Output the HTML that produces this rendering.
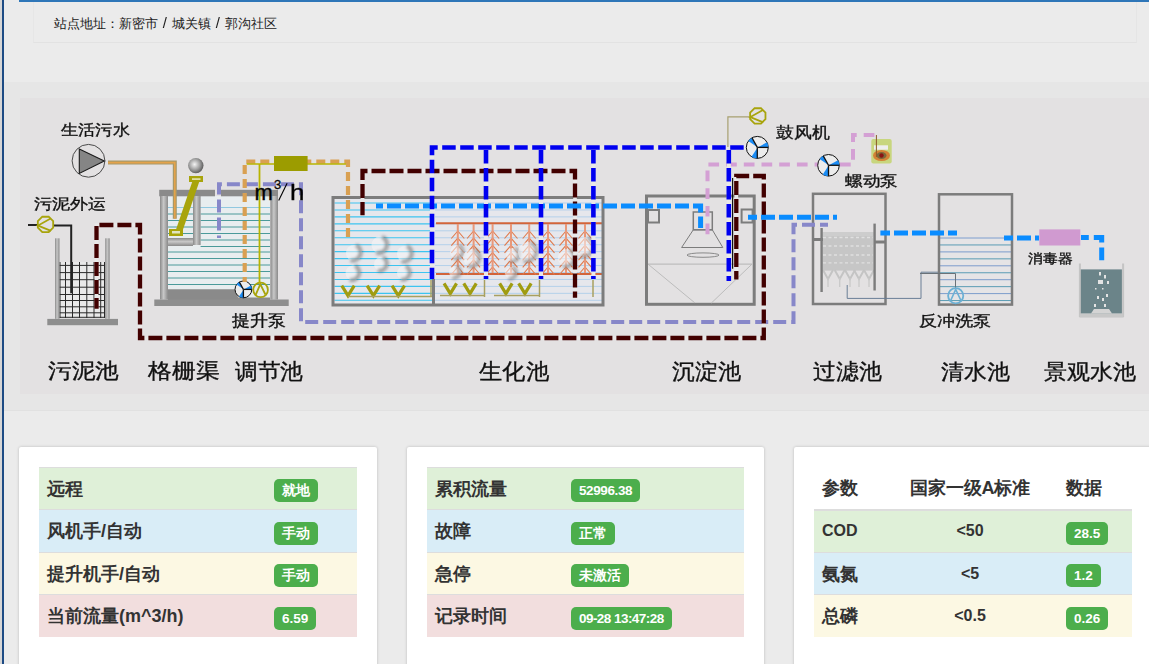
<!DOCTYPE html>
<html><head><meta charset="utf-8">
<style>
*{margin:0;padding:0;box-sizing:border-box}
html,body{width:1149px;height:664px;overflow:hidden;background:#ebebeb;font-family:"Liberation Sans",sans-serif;color:#333}
.abs{position:absolute}
#lstrip{left:0;top:0;width:2px;height:664px;background:#d6d6d6}
#lline{left:2px;top:0;width:2px;height:664px;background:#1d4b84}
#topbar{left:19px;top:0;width:1130px;height:2px;background:#2e76b8}
#hdr{left:33px;top:2px;width:1104px;height:41px;border-bottom:1px solid #e2e2e2;border-right:1px solid #e5e5e5;border-left:1px solid #e6e6e6;background:#ebebeb}
.sl{font-style:normal;display:inline-block;margin:0 5.2px;transform:scale(1.15,1.1)}
#hdr span{position:absolute;left:20px;top:14px;font-size:13px;line-height:15px;color:#1a1a1a;white-space:nowrap}
#band{left:4px;top:82px;width:1145px;height:329px;background:#e6e6e6;border-bottom:1px solid #e1e1e1}
#diag{left:20px;top:98px;width:1129px;height:296px;background:#e3e1e2}
.card{position:absolute;top:447px;height:230px;background:#fff;border-radius:2px;box-shadow:0 0 3px rgba(0,0,0,.22)}
table{position:absolute;left:20px;top:20px;border-collapse:collapse;font-size:18px;font-weight:bold;color:#333}
td,th{height:42.45px;border-top:1px solid #ddd;padding:0 8px;vertical-align:middle;text-align:left;white-space:nowrap}
tr.s td{background:#dff0d8}
tr.i td{background:#d9edf7}
tr.w td{background:#fcf8e3}
tr.d td{background:#f2dede}
.lb{position:relative;top:2px;display:inline-block;background:#4cae4c;color:#fff;font-size:13.5px;font-weight:bold;height:23px;line-height:23px;padding:0 8px;border-radius:5px;vertical-align:middle}
.lab{position:absolute;line-height:1;color:#111;white-space:nowrap;font-weight:500;transform-origin:0 0;-webkit-text-stroke:.35px #111}
.lab sup{font-size:60%;vertical-align:top;position:relative;top:-3px}
</style></head><body>
<div class="abs" id="lstrip"></div>
<div class="abs" id="lline"></div>
<div class="abs" id="topbar"></div>
<div class="abs" id="hdr"><span>站点地址：新密市<i class="sl">/</i>城关镇<i class="sl">/</i>郭沟社区</span></div>
<div class="abs" id="band"></div>
<div class="abs" id="diag"></div>
<svg class="abs" style="left:0;top:0" width="1149" height="400" viewBox="0 0 1149 400"><defs>
<linearGradient id="wall" x1="0" x2="1" y1="0" y2="0"><stop offset="0" stop-color="#8a8a8a"/><stop offset=".45" stop-color="#c8c8c8"/><stop offset="1" stop-color="#8a8a8a"/></linearGradient>
<linearGradient id="wallh" x1="0" x2="0" y1="0" y2="1"><stop offset="0" stop-color="#8a8a8a"/><stop offset=".45" stop-color="#c8c8c8"/><stop offset="1" stop-color="#8a8a8a"/></linearGradient>
<radialGradient id="sph" cx=".42" cy=".42" r=".6"><stop offset="0" stop-color="#f4f4f4"/><stop offset=".55" stop-color="#a4a4a4"/><stop offset="1" stop-color="#5a5a5a"/></radialGradient>
<filter id="blr" x="-50%" y="-50%" width="200%" height="200%"><feGaussianBlur stdDeviation="1.3"/></filter>
<filter id="blr3" x="-50%" y="-50%" width="200%" height="200%"><feGaussianBlur stdDeviation="1.4"/></filter>
<filter id="blr2" x="-50%" y="-50%" width="200%" height="200%"><feGaussianBlur stdDeviation="0.6"/></filter>
</defs><rect x="59.5" y="262" width="45.5" height="56" fill="#e9e9e9" /><path d="M60.00,262.00 L60.00,318.00" fill="none" stroke="#2a2a2a" stroke-width="1" /><path d="M65.50,262.00 L65.50,318.00" fill="none" stroke="#2a2a2a" stroke-width="1" /><path d="M72.50,262.00 L72.50,318.00" fill="none" stroke="#2a2a2a" stroke-width="1" /><path d="M79.50,262.00 L79.50,318.00" fill="none" stroke="#2a2a2a" stroke-width="1" /><path d="M86.80,262.00 L86.80,318.00" fill="none" stroke="#2a2a2a" stroke-width="1" /><path d="M94.00,262.00 L94.00,318.00" fill="none" stroke="#2a2a2a" stroke-width="1" /><path d="M100.70,262.00 L100.70,318.00" fill="none" stroke="#2a2a2a" stroke-width="1" /><path d="M104.50,262.00 L104.50,318.00" fill="none" stroke="#2a2a2a" stroke-width="1" /><path d="M59.50,265.40 L105.00,265.40" fill="none" stroke="#2a2a2a" stroke-width="1" /><path d="M59.50,272.60 L105.00,272.60" fill="none" stroke="#2a2a2a" stroke-width="1" /><path d="M59.50,279.70 L105.00,279.70" fill="none" stroke="#2a2a2a" stroke-width="1" /><path d="M59.50,287.20 L105.00,287.20" fill="none" stroke="#2a2a2a" stroke-width="1" /><path d="M59.50,294.50 L105.00,294.50" fill="none" stroke="#2a2a2a" stroke-width="1" /><path d="M59.50,300.50 L105.00,300.50" fill="none" stroke="#2a2a2a" stroke-width="1" /><path d="M59.50,306.80 L105.00,306.80" fill="none" stroke="#2a2a2a" stroke-width="1" /><path d="M59.50,312.80 L105.00,312.80" fill="none" stroke="#2a2a2a" stroke-width="1" /><path d="M59.50,317.30 L105.00,317.30" fill="none" stroke="#2a2a2a" stroke-width="1" /><rect x="55" y="238.3" width="4.5" height="80.5" fill="url(#wall)" /><rect x="105.2" y="238.3" width="4.5" height="80.5" fill="url(#wall)" /><rect x="47.3" y="318.9" width="70.7" height="6.3" fill="#8e8e8e" /><path d="M28.00,225.00 L38.00,225.00" fill="none" stroke="#222" stroke-width="2" /><path d="M54.00,225.60 L71.20,225.60 L71.20,293.30" fill="none" stroke="#222" stroke-width="2" /><polygon points="53.17,227.58 48.68,232.07 42.32,232.07 37.83,227.58 37.83,221.22 42.32,216.73 48.68,216.73 53.17,221.22" fill="none" stroke="#a8a40c" stroke-width="1.8"/><path d="M50.65,218.42 L38.03,225.56 L50.98,230.87" fill="none" stroke="#a8a40c" stroke-width="1.8" /><circle cx="88.5" cy="160.8" r="16.4" fill="none" stroke="#4a4a4a" stroke-width="1"/><polygon points="79.3,149 104.3,161 79.3,173.4" fill="#858585" stroke="#1a1a1a" stroke-width="1.1"/><rect x="168" y="196" width="102" height="104" fill="#e8edef" /><path d="M168.00,207.50 L193.00,207.50" fill="none" stroke="#4a9a9a" stroke-width="1" /><path d="M168.00,214.00 L193.00,214.00" fill="none" stroke="#4a9a9a" stroke-width="1" /><path d="M168.00,220.50 L193.00,220.50" fill="none" stroke="#4a9a9a" stroke-width="1" /><path d="M168.00,227.00 L193.00,227.00" fill="none" stroke="#4a9a9a" stroke-width="1" /><path d="M168.00,233.50 L193.00,233.50" fill="none" stroke="#4a9a9a" stroke-width="1" /><path d="M200.60,207.50 L270.00,207.50" fill="none" stroke="#4a9a9a" stroke-width="1" /><path d="M200.60,214.00 L270.00,214.00" fill="none" stroke="#4a9a9a" stroke-width="1" /><path d="M200.60,220.50 L270.00,220.50" fill="none" stroke="#4a9a9a" stroke-width="1" /><path d="M200.60,227.00 L270.00,227.00" fill="none" stroke="#4a9a9a" stroke-width="1" /><path d="M200.60,233.50 L270.00,233.50" fill="none" stroke="#4a9a9a" stroke-width="1" /><path d="M200.60,240.00 L270.00,240.00" fill="none" stroke="#4a9a9a" stroke-width="1" /><path d="M200.60,246.50 L270.00,246.50" fill="none" stroke="#4a9a9a" stroke-width="1" /><path d="M168.00,252.00 L270.00,252.00" fill="none" stroke="#4a9a9a" stroke-width="1" /><path d="M168.00,258.50 L270.00,258.50" fill="none" stroke="#4a9a9a" stroke-width="1" /><path d="M168.00,265.00 L270.00,265.00" fill="none" stroke="#4a9a9a" stroke-width="1" /><path d="M168.00,271.50 L270.00,271.50" fill="none" stroke="#4a9a9a" stroke-width="1" /><path d="M168.00,278.00 L270.00,278.00" fill="none" stroke="#4a9a9a" stroke-width="1" /><path d="M168.00,284.50 L270.00,284.50" fill="none" stroke="#4a9a9a" stroke-width="1" /><path d="M168.00,207.50 L270.00,207.50" fill="none" stroke="#90c8e0" stroke-width="1" /><path d="M168,289.3 L236,289.3 L238,297.5 L270,297.5 L270,300 L168,300 Z" fill="#8a8a8a"/><rect x="159.2" y="189.8" width="55.8" height="6.5" fill="#8a8a8a" /><rect x="221" y="189.8" width="57" height="6.5" fill="#8a8a8a" /><rect x="160" y="196" width="8" height="103.5" fill="url(#wall)" /><rect x="193" y="196" width="7.6" height="49" fill="url(#wall)" /><rect x="168" y="238" width="25" height="8" fill="url(#wallh)" /><rect x="270.4" y="196" width="7.6" height="103.5" fill="url(#wall)" /><rect x="154.3" y="299.5" width="134.4" height="6.5" fill="#8e8e8e" /><rect x="189" y="176" width="14" height="6" fill="#a8a40c"/><rect x="192" y="178.2" width="8.5" height="1.8" fill="#dedea0" /><polygon points="192.5,181 199.5,181 182.5,231 175.5,231" fill="#a8a40c"/><rect x="169" y="229" width="14" height="7" fill="#a8a40c"/><rect x="172" y="231" width="8" height="2.5" fill="#e0e4c0" /><circle cx="195.8" cy="165.6" r="7.7" fill="url(#sph)"/><path d="M108.00,162.60 L174.80,162.60 L174.80,218.70" fill="none" stroke="#a89868" stroke-width="4" /><path d="M108.00,162.60 L174.80,162.60 L174.80,218.70" fill="none" stroke="#e4a24a" stroke-width="1.6" /><circle cx="243.4" cy="289.4" r="8.4" fill="#ececec" stroke="#111" stroke-width="1"/><polygon points="244.18,289.21 251.80,289.40 251.74,288.38 251.55,287.37 251.24,286.39 250.82,285.46" fill="#1a8cf5"/><polygon points="243.18,290.17 243.40,297.80 242.23,297.72 241.08,297.47 239.98,297.07 238.95,296.52" fill="#1a8cf5"/><polygon points="242.86,288.81 239.33,282.05 238.52,282.56 237.78,283.16 237.11,283.83 236.52,284.58" fill="#1a8cf5"/><path d="M243.40,289.40 L251.80,289.40" fill="none" stroke="#111" stroke-width="1.3" /><path d="M243.40,289.40 L243.40,297.80" fill="none" stroke="#111" stroke-width="1.3" /><path d="M243.40,289.40 L239.33,282.05" fill="none" stroke="#111" stroke-width="1.3" /><circle cx="260.6" cy="289.9" r="7.3" fill="none" stroke="#a8a40c" stroke-width="1.8"/><path d="M255.60,295.10 L260.30,284.10 L265.40,294.50" fill="none" stroke="#a8a40c" stroke-width="1.8" /><rect x="333" y="198" width="271" height="107" fill="#e6e7ec" /><path d="M334.50,203.00 L432.00,203.00" fill="none" stroke="#3cc4f0" stroke-width="1.1" /><path d="M334.50,209.95 L432.00,209.95" fill="none" stroke="#3cc4f0" stroke-width="1.1" /><path d="M334.50,216.90 L432.00,216.90" fill="none" stroke="#3cc4f0" stroke-width="1.1" /><path d="M334.50,223.85 L432.00,223.85" fill="none" stroke="#3cc4f0" stroke-width="1.1" /><path d="M334.50,230.80 L432.00,230.80" fill="none" stroke="#3cc4f0" stroke-width="1.1" /><path d="M334.50,237.75 L432.00,237.75" fill="none" stroke="#3cc4f0" stroke-width="1.1" /><path d="M334.50,244.70 L432.00,244.70" fill="none" stroke="#3cc4f0" stroke-width="1.1" /><path d="M334.50,251.65 L432.00,251.65" fill="none" stroke="#3cc4f0" stroke-width="1.1" /><path d="M334.50,258.60 L432.00,258.60" fill="none" stroke="#3cc4f0" stroke-width="1.1" /><path d="M334.50,265.55 L432.00,265.55" fill="none" stroke="#3cc4f0" stroke-width="1.1" /><path d="M334.50,272.50 L432.00,272.50" fill="none" stroke="#3cc4f0" stroke-width="1.1" /><path d="M334.50,279.45 L432.00,279.45" fill="none" stroke="#3cc4f0" stroke-width="1.1" /><path d="M334.50,286.40 L432.00,286.40" fill="none" stroke="#3cc4f0" stroke-width="1.1" /><path d="M334.50,293.35 L432.00,293.35" fill="none" stroke="#3cc4f0" stroke-width="1.1" /><path d="M334.50,300.30 L432.00,300.30" fill="none" stroke="#3cc4f0" stroke-width="1.1" /><path d="M435.00,203.00 L602.00,203.00" fill="none" stroke="#b4d0ea" stroke-width="1" /><path d="M435.00,209.95 L602.00,209.95" fill="none" stroke="#b4d0ea" stroke-width="1" /><path d="M435.00,216.90 L602.00,216.90" fill="none" stroke="#b4d0ea" stroke-width="1" /><path d="M435.00,223.85 L602.00,223.85" fill="none" stroke="#b4d0ea" stroke-width="1" /><path d="M435.00,230.80 L602.00,230.80" fill="none" stroke="#b4d0ea" stroke-width="1" /><path d="M435.00,237.75 L602.00,237.75" fill="none" stroke="#b4d0ea" stroke-width="1" /><path d="M435.00,244.70 L602.00,244.70" fill="none" stroke="#b4d0ea" stroke-width="1" /><path d="M435.00,251.65 L602.00,251.65" fill="none" stroke="#b4d0ea" stroke-width="1" /><path d="M435.00,258.60 L602.00,258.60" fill="none" stroke="#b4d0ea" stroke-width="1" /><path d="M435.00,265.55 L602.00,265.55" fill="none" stroke="#b4d0ea" stroke-width="1" /><path d="M435.00,272.50 L602.00,272.50" fill="none" stroke="#b4d0ea" stroke-width="1" /><path d="M435.00,279.45 L602.00,279.45" fill="none" stroke="#b4d0ea" stroke-width="1" /><path d="M435.00,286.40 L602.00,286.40" fill="none" stroke="#b4d0ea" stroke-width="1" /><path d="M435.00,293.35 L602.00,293.35" fill="none" stroke="#b4d0ea" stroke-width="1" /><path d="M435.00,300.30 L602.00,300.30" fill="none" stroke="#b4d0ea" stroke-width="1" /><circle cx="354" cy="253" r="8" fill="#f6f6f8" opacity=".55"/><path d="M356.07,245.27 A8,8 0 0 1 350.62,260.25" fill="none" stroke="#5a5a5a" stroke-width="3.8" opacity="0.55" filter="url(#blr3)"/><circle cx="353" cy="273" r="7.5" fill="#f6f6f8" opacity=".55"/><path d="M354.94,265.76 A7.5,7.5 0 0 1 349.83,279.80" fill="none" stroke="#5a5a5a" stroke-width="3.8" opacity="0.55" filter="url(#blr3)"/><circle cx="380" cy="245" r="8.5" fill="#f6f6f8" opacity=".55"/><path d="M382.20,236.79 A8.5,8.5 0 0 1 376.41,252.70" fill="none" stroke="#5a5a5a" stroke-width="3.8" opacity="0.55" filter="url(#blr3)"/><circle cx="381" cy="264" r="7" fill="#f6f6f8" opacity=".55"/><path d="M382.81,257.24 A7,7 0 0 1 378.04,270.34" fill="none" stroke="#5a5a5a" stroke-width="3.8" opacity="0.55" filter="url(#blr3)"/><circle cx="405" cy="254" r="8" fill="#f6f6f8" opacity=".55"/><path d="M407.07,246.27 A8,8 0 0 1 401.62,261.25" fill="none" stroke="#5a5a5a" stroke-width="3.8" opacity="0.55" filter="url(#blr3)"/><circle cx="404" cy="273" r="7" fill="#f6f6f8" opacity=".55"/><path d="M405.81,266.24 A7,7 0 0 1 401.04,279.34" fill="none" stroke="#5a5a5a" stroke-width="3.8" opacity="0.55" filter="url(#blr3)"/><path d="M436.00,223.20 L602.00,223.20" fill="none" stroke="#d2643a" stroke-width="2" /><path d="M436.00,274.00 L602.00,274.00" fill="none" stroke="#d2643a" stroke-width="2" /><path d="M451.30,238.50 L457.80,231.00 L464.30,238.50" fill="none" stroke="#e07a4c" stroke-width="1.1" /><path d="M451.30,245.70 L457.80,238.20 L464.30,245.70" fill="none" stroke="#e07a4c" stroke-width="1.1" /><path d="M451.30,252.90 L457.80,245.40 L464.30,252.90" fill="none" stroke="#e07a4c" stroke-width="1.1" /><path d="M451.30,260.10 L457.80,252.60 L464.30,260.10" fill="none" stroke="#e07a4c" stroke-width="1.1" /><path d="M451.30,267.30 L457.80,259.80 L464.30,267.30" fill="none" stroke="#e07a4c" stroke-width="1.1" /><path d="M451.30,274.50 L457.80,267.00 L464.30,274.50" fill="none" stroke="#e07a4c" stroke-width="1.1" /><path d="M457.80,224.00 L457.80,273.00" fill="none" stroke="#e8987a" stroke-width="2" /><path d="M467.10,238.50 L473.60,231.00 L480.10,238.50" fill="none" stroke="#e07a4c" stroke-width="1.1" /><path d="M467.10,245.70 L473.60,238.20 L480.10,245.70" fill="none" stroke="#e07a4c" stroke-width="1.1" /><path d="M467.10,252.90 L473.60,245.40 L480.10,252.90" fill="none" stroke="#e07a4c" stroke-width="1.1" /><path d="M467.10,260.10 L473.60,252.60 L480.10,260.10" fill="none" stroke="#e07a4c" stroke-width="1.1" /><path d="M467.10,267.30 L473.60,259.80 L480.10,267.30" fill="none" stroke="#e07a4c" stroke-width="1.1" /><path d="M467.10,274.50 L473.60,267.00 L480.10,274.50" fill="none" stroke="#e07a4c" stroke-width="1.1" /><path d="M473.60,224.00 L473.60,273.00" fill="none" stroke="#e8987a" stroke-width="2" /><path d="M486.10,238.50 L492.60,231.00 L499.10,238.50" fill="none" stroke="#e07a4c" stroke-width="1.1" /><path d="M486.10,245.70 L492.60,238.20 L499.10,245.70" fill="none" stroke="#e07a4c" stroke-width="1.1" /><path d="M486.10,252.90 L492.60,245.40 L499.10,252.90" fill="none" stroke="#e07a4c" stroke-width="1.1" /><path d="M486.10,260.10 L492.60,252.60 L499.10,260.10" fill="none" stroke="#e07a4c" stroke-width="1.1" /><path d="M486.10,267.30 L492.60,259.80 L499.10,267.30" fill="none" stroke="#e07a4c" stroke-width="1.1" /><path d="M486.10,274.50 L492.60,267.00 L499.10,274.50" fill="none" stroke="#e07a4c" stroke-width="1.1" /><path d="M492.60,224.00 L492.60,273.00" fill="none" stroke="#e8987a" stroke-width="2" /><path d="M504.50,238.50 L511.00,231.00 L517.50,238.50" fill="none" stroke="#e07a4c" stroke-width="1.1" /><path d="M504.50,245.70 L511.00,238.20 L517.50,245.70" fill="none" stroke="#e07a4c" stroke-width="1.1" /><path d="M504.50,252.90 L511.00,245.40 L517.50,252.90" fill="none" stroke="#e07a4c" stroke-width="1.1" /><path d="M504.50,260.10 L511.00,252.60 L517.50,260.10" fill="none" stroke="#e07a4c" stroke-width="1.1" /><path d="M504.50,267.30 L511.00,259.80 L517.50,267.30" fill="none" stroke="#e07a4c" stroke-width="1.1" /><path d="M504.50,274.50 L511.00,267.00 L517.50,274.50" fill="none" stroke="#e07a4c" stroke-width="1.1" /><path d="M511.00,224.00 L511.00,273.00" fill="none" stroke="#e8987a" stroke-width="2" /><path d="M522.70,238.50 L529.20,231.00 L535.70,238.50" fill="none" stroke="#e07a4c" stroke-width="1.1" /><path d="M522.70,245.70 L529.20,238.20 L535.70,245.70" fill="none" stroke="#e07a4c" stroke-width="1.1" /><path d="M522.70,252.90 L529.20,245.40 L535.70,252.90" fill="none" stroke="#e07a4c" stroke-width="1.1" /><path d="M522.70,260.10 L529.20,252.60 L535.70,260.10" fill="none" stroke="#e07a4c" stroke-width="1.1" /><path d="M522.70,267.30 L529.20,259.80 L535.70,267.30" fill="none" stroke="#e07a4c" stroke-width="1.1" /><path d="M522.70,274.50 L529.20,267.00 L535.70,274.50" fill="none" stroke="#e07a4c" stroke-width="1.1" /><path d="M529.20,224.00 L529.20,273.00" fill="none" stroke="#e8987a" stroke-width="2" /><path d="M541.50,238.50 L548.00,231.00 L554.50,238.50" fill="none" stroke="#e07a4c" stroke-width="1.1" /><path d="M541.50,245.70 L548.00,238.20 L554.50,245.70" fill="none" stroke="#e07a4c" stroke-width="1.1" /><path d="M541.50,252.90 L548.00,245.40 L554.50,252.90" fill="none" stroke="#e07a4c" stroke-width="1.1" /><path d="M541.50,260.10 L548.00,252.60 L554.50,260.10" fill="none" stroke="#e07a4c" stroke-width="1.1" /><path d="M541.50,267.30 L548.00,259.80 L554.50,267.30" fill="none" stroke="#e07a4c" stroke-width="1.1" /><path d="M541.50,274.50 L548.00,267.00 L554.50,274.50" fill="none" stroke="#e07a4c" stroke-width="1.1" /><path d="M548.00,224.00 L548.00,273.00" fill="none" stroke="#e8987a" stroke-width="2" /><path d="M559.50,238.50 L566.00,231.00 L572.50,238.50" fill="none" stroke="#e07a4c" stroke-width="1.1" /><path d="M559.50,245.70 L566.00,238.20 L572.50,245.70" fill="none" stroke="#e07a4c" stroke-width="1.1" /><path d="M559.50,252.90 L566.00,245.40 L572.50,252.90" fill="none" stroke="#e07a4c" stroke-width="1.1" /><path d="M559.50,260.10 L566.00,252.60 L572.50,260.10" fill="none" stroke="#e07a4c" stroke-width="1.1" /><path d="M559.50,267.30 L566.00,259.80 L572.50,267.30" fill="none" stroke="#e07a4c" stroke-width="1.1" /><path d="M559.50,274.50 L566.00,267.00 L572.50,274.50" fill="none" stroke="#e07a4c" stroke-width="1.1" /><path d="M566.00,224.00 L566.00,273.00" fill="none" stroke="#e8987a" stroke-width="2" /><path d="M578.50,238.50 L585.00,231.00 L591.50,238.50" fill="none" stroke="#e07a4c" stroke-width="1.1" /><path d="M578.50,245.70 L585.00,238.20 L591.50,245.70" fill="none" stroke="#e07a4c" stroke-width="1.1" /><path d="M578.50,252.90 L585.00,245.40 L591.50,252.90" fill="none" stroke="#e07a4c" stroke-width="1.1" /><path d="M578.50,260.10 L585.00,252.60 L591.50,260.10" fill="none" stroke="#e07a4c" stroke-width="1.1" /><path d="M578.50,267.30 L585.00,259.80 L591.50,267.30" fill="none" stroke="#e07a4c" stroke-width="1.1" /><path d="M578.50,274.50 L585.00,267.00 L591.50,274.50" fill="none" stroke="#e07a4c" stroke-width="1.1" /><path d="M585.00,224.00 L585.00,273.00" fill="none" stroke="#e8987a" stroke-width="2" /><circle cx="457" cy="252" r="7" fill="#f6f6f8" opacity=".55"/><path d="M458.81,245.24 A7,7 0 0 1 454.04,258.34" fill="none" stroke="#5a5a5a" stroke-width="3.5" opacity="0.5" filter="url(#blr3)"/><circle cx="455" cy="272" r="6" fill="#f6f6f8" opacity=".55"/><path d="M456.55,266.20 A6,6 0 0 1 452.46,277.44" fill="none" stroke="#5a5a5a" stroke-width="3.5" opacity="0.5" filter="url(#blr3)"/><circle cx="472" cy="258" r="9" fill="#f6f6f8" opacity=".55"/><path d="M474.33,249.31 A9,9 0 0 1 468.20,266.16" fill="none" stroke="#5a5a5a" stroke-width="3.5" opacity="0.5" filter="url(#blr3)"/><circle cx="513" cy="255" r="7" fill="#f6f6f8" opacity=".55"/><path d="M514.81,248.24 A7,7 0 0 1 510.04,261.34" fill="none" stroke="#5a5a5a" stroke-width="3.5" opacity="0.5" filter="url(#blr3)"/><circle cx="511" cy="273" r="6" fill="#f6f6f8" opacity=".55"/><path d="M512.55,267.20 A6,6 0 0 1 508.46,278.44" fill="none" stroke="#5a5a5a" stroke-width="3.5" opacity="0.5" filter="url(#blr3)"/><circle cx="528" cy="252" r="10" fill="#f6f6f8" opacity=".55"/><path d="M530.59,242.34 A10,10 0 0 1 523.77,261.06" fill="none" stroke="#5a5a5a" stroke-width="3.5" opacity="0.5" filter="url(#blr3)"/><circle cx="567" cy="258" r="9" fill="#f6f6f8" opacity=".55"/><path d="M569.33,249.31 A9,9 0 0 1 563.20,266.16" fill="none" stroke="#5a5a5a" stroke-width="3.5" opacity="0.5" filter="url(#blr3)"/><circle cx="585" cy="247" r="10" fill="#f6f6f8" opacity=".55"/><path d="M587.59,237.34 A10,10 0 0 1 580.77,256.06" fill="none" stroke="#5a5a5a" stroke-width="3.5" opacity="0.5" filter="url(#blr3)"/><path d="M341.75,285.70 L348.00,295.70 L354.25,285.70" fill="none" stroke="#a09c10" stroke-width="3.2" /><path d="M367.15,285.70 L373.40,295.70 L379.65,285.70" fill="none" stroke="#a09c10" stroke-width="3.2" /><path d="M392.05,285.70 L398.30,295.70 L404.55,285.70" fill="none" stroke="#a09c10" stroke-width="3.2" /><path d="M444.05,283.40 L450.30,293.60 L456.55,283.40" fill="none" stroke="#a09c10" stroke-width="3.2" /><path d="M463.75,283.40 L470.00,293.60 L476.25,283.40" fill="none" stroke="#a09c10" stroke-width="3.2" /><path d="M499.65,283.40 L505.90,293.60 L512.15,283.40" fill="none" stroke="#a09c10" stroke-width="3.2" /><path d="M518.65,283.40 L524.90,293.60 L531.15,283.40" fill="none" stroke="#a09c10" stroke-width="3.2" /><path d="M348.00,296.60 L432.00,296.60" fill="none" stroke="#a8a060" stroke-width="1.5" /><path d="M440.00,295.60 L484.50,295.60" fill="none" stroke="#a8a060" stroke-width="1.5" /><path d="M494.00,295.60 L539.50,295.60" fill="none" stroke="#a8a060" stroke-width="1.5" /><path d="M431.00,280.00 L431.00,297.00" fill="none" stroke="#a8a060" stroke-width="1.5" /><path d="M484.50,280.00 L484.50,297.00" fill="none" stroke="#a8a060" stroke-width="1.5" /><path d="M539.50,280.00 L539.50,297.00" fill="none" stroke="#a8a060" stroke-width="1.5" /><path d="M593.00,280.00 L593.00,297.00" fill="none" stroke="#a8a060" stroke-width="1.5" /><rect x="333" y="197.5" width="270" height="107.5" fill="none" stroke="#7c7c7c" stroke-width="3"/><path d="M433.50,279.00 L433.50,305.00" fill="none" stroke="#7c7c7c" stroke-width="3" /><rect x="646.5" y="196" width="107.7" height="108.3" fill="none" stroke="#7c7c7c" stroke-width="3"/><rect x="648" y="210" width="11" height="12.5" fill="none" stroke="#7c7c7c" stroke-width="2"/><rect x="741.6" y="209.5" width="11" height="13" fill="none" stroke="#7c7c7c" stroke-width="2"/><rect x="693.3" y="212" width="19" height="17.8" fill="none" stroke="#7c7c7c" stroke-width="1.5"/><polygon points="693.3,229.8 712.3,229.8 722.8,247.5 681.6,247.5" fill="none" stroke="#7c7c7c" stroke-width="1"/><ellipse cx="703" cy="255.1" rx="16" ry="2.2" fill="none" stroke="#8a8a8a" stroke-width="1"/><path d="M648.00,264.10 L752.00,264.10" fill="none" stroke="#b4b4b4" stroke-width="1" /><path d="M648.00,264.10 L695.00,303.00" fill="none" stroke="#bcbcbc" stroke-width="1" /><path d="M752.00,264.10 L711.40,303.00" fill="none" stroke="#bcbcbc" stroke-width="1" /><rect x="813" y="193.8" width="72.5" height="110.2" fill="none" stroke="#7c7c7c" stroke-width="2.5"/><rect x="822.8" y="232" width="50.6" height="38.6" fill="#c6c6c6" /><rect x="822.8" y="232" width="50.6" height="4" fill="#cdcdcd" /><path d="M823.00,270.00 L828.00,279.00 L833.00,270.00" fill="none" stroke="#c4c4c4" stroke-width="2" /><path d="M828.00,278.00 L828.00,287.00" fill="none" stroke="#cacaca" stroke-width="1.4" /><path d="M834.70,270.00 L839.70,279.00 L844.70,270.00" fill="none" stroke="#c4c4c4" stroke-width="2" /><path d="M839.70,278.00 L839.70,287.00" fill="none" stroke="#cacaca" stroke-width="1.4" /><path d="M845.00,270.00 L850.00,279.00 L855.00,270.00" fill="none" stroke="#c4c4c4" stroke-width="2" /><path d="M850.00,278.00 L850.00,287.00" fill="none" stroke="#cacaca" stroke-width="1.4" /><path d="M854.00,270.00 L859.00,279.00 L864.00,270.00" fill="none" stroke="#c4c4c4" stroke-width="2" /><path d="M859.00,278.00 L859.00,287.00" fill="none" stroke="#cacaca" stroke-width="1.4" /><path d="M864.00,270.00 L869.00,279.00 L874.00,270.00" fill="none" stroke="#c4c4c4" stroke-width="2" /><path d="M869.00,278.00 L869.00,287.00" fill="none" stroke="#cacaca" stroke-width="1.4" /><path d="M823.00,237.50 L873.00,237.50" fill="none" stroke="#e0e0e0" stroke-width="1.3" stroke-dasharray="3 2.5"/><path d="M823.00,246.00 L873.00,246.00" fill="none" stroke="#e0e0e0" stroke-width="1.3" stroke-dasharray="3 2.5"/><path d="M823.00,255.00 L873.00,255.00" fill="none" stroke="#e0e0e0" stroke-width="1.3" stroke-dasharray="3 2.5"/><path d="M823.00,262.80 L873.00,262.80" fill="none" stroke="#e0e0e0" stroke-width="1.3" stroke-dasharray="3 2.5"/><path d="M821.60,228.00 L821.60,292.00" fill="none" stroke="#7c7c7c" stroke-width="2.4" /><path d="M874.60,223.60 L874.60,290.50" fill="none" stroke="#7c7c7c" stroke-width="2.4" /><path d="M814.00,239.50 L823.00,239.50" fill="none" stroke="#7c7c7c" stroke-width="3" /><path d="M875.00,242.00 L885.00,242.00" fill="none" stroke="#7c7c7c" stroke-width="3" /><path d="M847.20,285.00 L847.20,298.40 L921.00,298.40 L921.00,272.20 L940.00,272.20" fill="none" stroke="#6a7e96" stroke-width="1" /><rect x="940" y="237" width="71" height="66" fill="#e5e4e6" /><path d="M940.00,238.00 L1011.50,238.00" fill="none" stroke="#7c9ccc" stroke-width="1" /><path d="M940.00,244.95 L1011.50,244.95" fill="none" stroke="#5a9cb4" stroke-width="1" /><path d="M940.00,251.90 L1011.50,251.90" fill="none" stroke="#7c9ccc" stroke-width="1" /><path d="M940.00,258.85 L1011.50,258.85" fill="none" stroke="#5a9cb4" stroke-width="1" /><path d="M940.00,265.80 L1011.50,265.80" fill="none" stroke="#7c9ccc" stroke-width="1" /><path d="M940.00,272.75 L1011.50,272.75" fill="none" stroke="#5a9cb4" stroke-width="1" /><path d="M940.00,279.70 L1011.50,279.70" fill="none" stroke="#7c9ccc" stroke-width="1" /><path d="M940.00,286.65 L1011.50,286.65" fill="none" stroke="#5a9cb4" stroke-width="1" /><path d="M940.00,293.60 L1011.50,293.60" fill="none" stroke="#7c9ccc" stroke-width="1" /><path d="M940.00,300.55 L1011.50,300.55" fill="none" stroke="#5a9cb4" stroke-width="1" /><rect x="939" y="194.3" width="73" height="110.3" fill="none" stroke="#7c7c7c" stroke-width="2.5"/><path d="M920.00,273.50 L955.50,273.50 L955.50,288.00" fill="none" stroke="#6a7278" stroke-width="1" /><circle cx="955.7" cy="295.7" r="7.6" fill="none" stroke="#6cb0d4" stroke-width="1.8"/><path d="M950.70,300.50 L955.70,289.50 L960.70,300.00" fill="none" stroke="#6cb0d4" stroke-width="1.6" /><path d="M1079.9,263.5 L1079.9,316.3 L1123.1,316.3 L1123.1,263.5" fill="none" stroke="#c4c4c4" stroke-width="2"/><rect x="1079.9" y="313.4" width="43.2" height="4" fill="#c8c8c8" /><rect x="1080.8" y="269.4" width="41.1" height="44" fill="#6b8489" /><path d="M1091,313.4 L1094,309 L1109,309 L1112,313.4 Z" fill="#d4d4d4"/><rect x="1099" y="272" width="2" height="3.5" fill="#e4e4e4" /><rect x="1104" y="275" width="2" height="3.5" fill="#e4e4e4" /><rect x="1098" y="280" width="5" height="4" fill="#e4e4e4" /><rect x="1107" y="281" width="2" height="3" fill="#e4e4e4" /><rect x="1095" y="288" width="1.5" height="1.5" fill="#e4e4e4" /><rect x="1102" y="288" width="1.5" height="1.5" fill="#e4e4e4" /><rect x="1097" y="296" width="2" height="3" fill="#e4e4e4" /><rect x="1102" y="298" width="2" height="3" fill="#e4e4e4" /><rect x="1106" y="294" width="2" height="3" fill="#e4e4e4" /><rect x="1094" y="304" width="2" height="3" fill="#e4e4e4" /><rect x="1104" y="304" width="2" height="3" fill="#e4e4e4" /><rect x="1039.3" y="229.4" width="41" height="16.1" fill="#d09ad0" /><rect x="871.3" y="138.9" width="20.4" height="24.7" rx="2" fill="#c8d67e"/><rect x="874" y="145.3" width="14" height="4.4" fill="#eeeeee" /><ellipse cx="881.5" cy="155.5" rx="8.5" ry="5.5" fill="#d48236"/><ellipse cx="881.5" cy="155.5" rx="5" ry="3.5" fill="#7a6a3a"/><circle cx="881.5" cy="155.5" r="2.2" fill="#8a1414"/><path d="M876.40,135.00 L876.40,157.00" fill="none" stroke="#8a5a2a" stroke-width="1" /><path d="M219.00,238.00 L219.00,184.30 L301.00,184.30 L301.00,322.00 L793.50,322.00 L793.50,224.80 L828.00,224.80" fill="none" stroke="#8787c9" stroke-width="4" stroke-dasharray="13 5" stroke-dashoffset="10.4"/><path d="M244.70,282.00 L244.70,161.60 L348.00,161.60 L348.00,240.00" fill="none" stroke="#d9a052" stroke-width="4.2" stroke-dasharray="9 5" stroke-dashoffset="4"/><path d="M246.70,164.00 L346.00,164.00" fill="none" stroke="#b8b400" stroke-width="1.6" /><path d="M259.50,164.00 L259.50,283.00" fill="none" stroke="#b8b400" stroke-width="1.8" /><rect x="274" y="156" width="33.6" height="15" fill="#9c9c00" /><path d="M707.50,234.30 L707.50,164.40 L818.00,164.40" fill="none" stroke="#d4a0d4" stroke-width="4" stroke-dasharray="10.7 7" stroke-dashoffset="0"/><path d="M840.00,164.40 L853.00,164.40 L853.00,135.00 L876.00,135.00" fill="none" stroke="#d4a0d4" stroke-width="4" stroke-dasharray="10.7 7" stroke-dashoffset="0"/><path d="M96.50,308.80 L96.50,225.00 L140.00,225.00 L140.00,338.00 L763.80,338.00 L763.80,176.00 L736.30,176.00 L736.30,279.50" fill="none" stroke="#e9e8e8" stroke-width="3.6999999999999997"/><path d="M96.50,308.80 L96.50,225.00 L140.00,225.00 L140.00,338.00 L763.80,338.00 L763.80,176.00 L736.30,176.00 L736.30,279.50" fill="none" stroke="#420000" stroke-width="4.3" stroke-dasharray="14 4" stroke-dashoffset="3.3"/><path d="M362.50,215.30 L362.50,171.00 L575.00,171.00 L575.00,297.70" fill="none" stroke="#e9e8e8" stroke-width="3.6999999999999997"/><path d="M362.50,215.30 L362.50,171.00 L575.00,171.00 L575.00,297.70" fill="none" stroke="#420000" stroke-width="4.3" stroke-dasharray="14 4" stroke-dashoffset="0.7"/><path d="M732.60,178.00 L732.60,268.70" fill="none" stroke="#111" stroke-width="1.2" /><path d="M376.00,206.00 L700.60,206.00 L700.60,228.00" fill="none" stroke="#0a8cff" stroke-width="5" stroke-dasharray="14 4" stroke-dashoffset="7"/><path d="M748.00,217.20 L837.00,217.20" fill="none" stroke="#0a8cff" stroke-width="5" stroke-dasharray="14 4" stroke-dashoffset="5"/><path d="M880.40,233.00 L957.00,233.00" fill="none" stroke="#0a8cff" stroke-width="5" stroke-dasharray="14 4" stroke-dashoffset="4.4"/><path d="M1004.00,238.00 L1039.00,238.00" fill="none" stroke="#0a8cff" stroke-width="5" stroke-dasharray="14 4" stroke-dashoffset="5"/><path d="M1081.00,237.40 L1101.70,237.40 L1101.70,260.30" fill="none" stroke="#0a8cff" stroke-width="5" stroke-dasharray="13 5" stroke-dashoffset="5.2"/><path d="M432.00,279.00 L432.00,147.50 L746.00,147.50" fill="none" stroke="#e9e8e8" stroke-width="3.9999999999999996"/><path d="M432.00,279.00 L432.00,147.50 L746.00,147.50" fill="none" stroke="#0000f0" stroke-width="4.6" stroke-dasharray="13.5 4.5" stroke-dashoffset="2.3"/><path d="M486.00,150.00 L486.00,279.00" fill="none" stroke="#e9e8e8" stroke-width="3.9999999999999996"/><path d="M486.00,150.00 L486.00,279.00" fill="none" stroke="#0000f0" stroke-width="4.6" stroke-dasharray="13.5 4.5" stroke-dashoffset="0"/><path d="M541.00,150.00 L541.00,279.00" fill="none" stroke="#e9e8e8" stroke-width="3.9999999999999996"/><path d="M541.00,150.00 L541.00,279.00" fill="none" stroke="#0000f0" stroke-width="4.6" stroke-dasharray="13.5 4.5" stroke-dashoffset="0"/><path d="M593.40,150.00 L593.40,279.00" fill="none" stroke="#e9e8e8" stroke-width="3.9999999999999996"/><path d="M593.40,150.00 L593.40,279.00" fill="none" stroke="#0000f0" stroke-width="4.6" stroke-dasharray="13.5 4.5" stroke-dashoffset="0"/><path d="M728.80,150.00 L728.80,281.00" fill="none" stroke="#e9e8e8" stroke-width="3.9999999999999996"/><path d="M728.80,150.00 L728.80,281.00" fill="none" stroke="#0000f0" stroke-width="4.6" stroke-dasharray="13.5 4.5" stroke-dashoffset="0"/><path d="M749.00,116.90 L727.90,116.90 L727.90,147.00" fill="none" stroke="#a8a070" stroke-width="1.2" /><polygon points="765.47,119.08 760.98,123.57 754.62,123.57 750.13,119.08 750.13,112.72 754.62,108.23 760.98,108.23 765.47,112.72" fill="none" stroke="#a8a40c" stroke-width="1.8"/><path d="M762.95,109.92 L750.33,117.06 L763.28,122.37" fill="none" stroke="#a8a40c" stroke-width="1.8" /><circle cx="757.3" cy="147.4" r="11" fill="#ececec" stroke="#111" stroke-width="1"/><polygon points="758.08,147.21 768.30,147.40 768.22,146.06 767.97,144.74 767.57,143.46 767.01,142.24" fill="#1a8cf5"/><polygon points="757.08,148.17 757.30,158.40 755.77,158.29 754.27,157.97 752.83,157.45 751.47,156.73" fill="#1a8cf5"/><polygon points="756.76,146.81 751.97,137.78 750.91,138.44 749.94,139.23 749.06,140.11 748.29,141.09" fill="#1a8cf5"/><path d="M757.30,147.40 L768.30,147.40" fill="none" stroke="#111" stroke-width="1.3" /><path d="M757.30,147.40 L757.30,158.40" fill="none" stroke="#111" stroke-width="1.3" /><path d="M757.30,147.40 L751.97,137.78" fill="none" stroke="#111" stroke-width="1.3" /><circle cx="828.5" cy="165.3" r="10.8" fill="#ececec" stroke="#111" stroke-width="1"/><polygon points="829.28,165.11 839.30,165.30 839.22,163.98 838.98,162.69 838.58,161.43 838.04,160.23" fill="#1a8cf5"/><polygon points="828.28,166.07 828.50,176.10 827.00,175.99 825.52,175.68 824.11,175.17 822.78,174.46" fill="#1a8cf5"/><polygon points="827.96,164.71 823.26,155.85 822.23,156.51 821.27,157.27 820.41,158.14 819.65,159.11" fill="#1a8cf5"/><path d="M828.50,165.30 L839.30,165.30" fill="none" stroke="#111" stroke-width="1.3" /><path d="M828.50,165.30 L828.50,176.10" fill="none" stroke="#111" stroke-width="1.3" /><path d="M828.50,165.30 L823.26,155.85" fill="none" stroke="#111" stroke-width="1.3" /><path d="M278.7,200.5 L287.1,183.2" stroke="#000" stroke-width="1.1"/></svg><div class="lab" style="left:48.45px;top:361.17px;font-size:20.53px;font-weight:500;transform:scaleX(1.121)">污泥池</div><div class="lab" style="left:147.5px;top:361.17px;font-size:20.53px;font-weight:500;transform:scaleX(1.131)">格栅渠</div><div class="lab" style="left:235.0px;top:361.12px;font-size:21.67px;font-weight:500;transform:scaleX(1.031)">调节池</div><div class="lab" style="left:479.25px;top:361.12px;font-size:21.67px;font-weight:500;transform:scaleX(1.058)">生化池</div><div class="lab" style="left:671.66px;top:361.12px;font-size:21.67px;font-weight:500;transform:scaleX(1.051)">沉淀池</div><div class="lab" style="left:813.45px;top:361.09px;font-size:22.22px;font-weight:500;transform:scaleX(1.039)">过滤池</div><div class="lab" style="left:940.85px;top:361.15px;font-size:21.05px;font-weight:500;transform:scaleX(1.09)">清水池</div><div class="lab" style="left:1043.55px;top:361.15px;font-size:21.05px;font-weight:500;transform:scaleX(1.097)">景观水池</div><div class="lab" style="left:60.71px;top:122.13000000000001px;font-size:15.47px;font-weight:500;transform:scaleX(1.147)">生活污水</div><div class="lab" style="left:34.12px;top:196.66px;font-size:14.74px;font-weight:500;transform:scaleX(1.201)">污泥外运</div><div class="lab" style="left:231.6px;top:312.09px;font-size:16.21px;font-weight:500;transform:scaleX(1.121)">提升泵</div><div class="lab" style="left:776.49px;top:124.29px;font-size:16.22px;font-weight:500;transform:scaleX(1.12)">鼓风机</div><div class="lab" style="left:845.4px;top:172.63px;font-size:15.47px;font-weight:500;transform:scaleX(1.174)">螺动泵</div><div class="lab" style="left:919.09px;top:313.34999999999997px;font-size:15.05px;font-weight:500;transform:scaleX(1.209)">反冲洗泵</div><div class="lab" style="left:1027.65px;top:252.04px;font-size:13.16px;font-weight:500;transform:scaleX(1.137)">消毒器</div><div class="lab" style="left:254.5px;top:182px;font-size:22px;font-weight:400;color:#000">m</div><div class="lab" style="left:274px;top:178px;font-size:13px;font-weight:400;color:#000">3</div><div class="lab" style="left:289.8px;top:182px;font-size:22px;font-weight:400;color:#000;transform:scaleX(1.18)">h</div>

<div class="card" style="left:19px;width:358px">
<table style="width:318px">
<tr class="s"><td style="width:227px">远程</td><td><span class="lb">就地</span></td></tr>
<tr class="i"><td>风机手/自动</td><td><span class="lb">手动</span></td></tr>
<tr class="w"><td>提升机手/自动</td><td><span class="lb">手动</span></td></tr>
<tr class="d"><td>当前流量(m^3/h)</td><td><span class="lb">6.59</span></td></tr>
</table></div>

<div class="card" style="left:407px;width:357px">
<table style="width:317px">
<tr class="s"><td style="width:136px">累积流量</td><td><span class="lb" style="letter-spacing:-.4px">52996.38</span></td></tr>
<tr class="i"><td>故障</td><td><span class="lb">正常</span></td></tr>
<tr class="w"><td>急停</td><td><span class="lb">未激活</span></td></tr>
<tr class="d"><td>记录时间</td><td><span class="lb" style="letter-spacing:-.55px">09-28 13:47:28</span></td></tr>
</table></div>

<div class="card" style="left:794px;width:380px">
<table style="width:318px">
<tr><th style="width:68px;height:43px;border-top:0;border-bottom:2px solid #ddd">参数</th><th style="width:176px;text-align:center;border-top:0;border-bottom:2px solid #ddd">国家一级A标准</th><th style="border-top:0;border-bottom:2px solid #ddd">数据</th></tr>
<tr class="s"><td style="font-size:16px">COD</td><td style="text-align:center;font-size:16px">&lt;50</td><td><span class="lb">28.5</span></td></tr>
<tr class="i"><td>氨氮</td><td style="text-align:center;font-size:16px">&lt;5</td><td><span class="lb">1.2</span></td></tr>
<tr class="w"><td>总磷</td><td style="text-align:center;font-size:16px">&lt;0.5</td><td><span class="lb">0.26</span></td></tr>
</table></div>

</body></html>
